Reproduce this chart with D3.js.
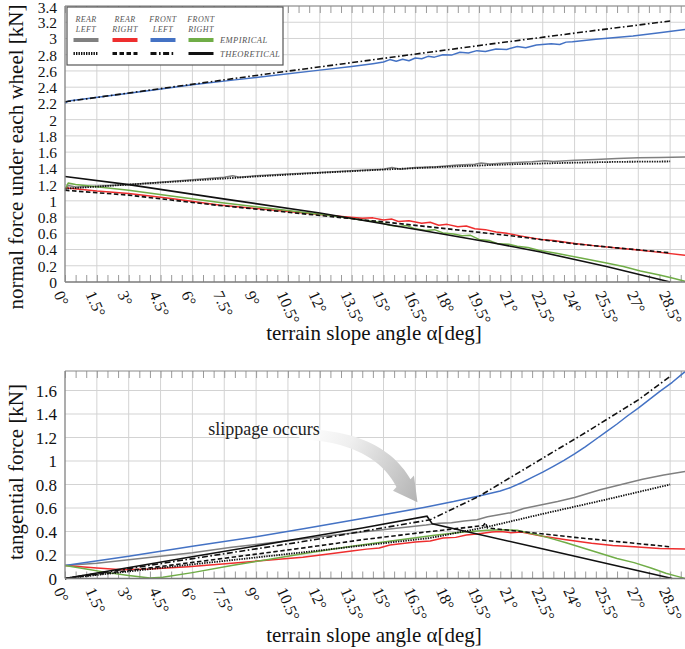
<!DOCTYPE html>
<html><head><meta charset="utf-8">
<script src="https://cdn.jsdelivr.net/npm/d3@7"></script>
<style>
body{margin:0;background:#fff;}
svg{display:block;font-family:"Liberation Serif","DejaVu Serif",serif;}
</style></head><body>
<svg id="c" width="685" height="649"></svg>
<script>
// ---------- tick values / labels ----------
const xTicks = [0,1.5,3,4.5,6,7.5,9,10.5,12,13.5,15,16.5,18,19.5,21,22.5,24,25.5,27,28.5];
const xTickLabels = ["0°","1.5°","3°","4.5°","6°","7.5°","9°","10.5°","12°","13.5°","15°","16.5°","18°","19.5°","21°","22.5°","24°","25.5°","27°","28.5°"];
const normTicks = [0,0.2,0.4,0.6,0.8,1,1.2,1.4,1.6,1.8,2,2.2,2.4,2.6,2.8,3,3.2,3.4];
const normTickLabels = ["0","0.2","0.4","0.6","0.8","1","1.2","1.4","1.6","1.8","2","2.2","2.4","2.6","2.8","3","3.2","3.4"];
const tanTicks = [0,0.2,0.4,0.6,0.8,1,1.2,1.4,1.6];
const tanTickLabels = ["0","0.2","0.4","0.6","0.8","1","1.2","1.4","1.6"];
const legendColumns = [["REAR","LEFT"],["REAR","RIGHT"],["FRONT","LEFT"],["FRONT","RIGHT"]];
const legendRows = ["EMPIRICAL","THEORETICAL"];

// ---------- normal force [kN] vs slope angle [deg] ----------
const normRearLeftEmp = [[0,1.12],[0.15,1.19],[0.5,1.17],[1.5,1.18],[3,1.20],[4.5,1.23],[6,1.26],[7.5,1.29],[7.9,1.31],[8.2,1.29],[9,1.31],[10.5,1.33],[12,1.35],[13.5,1.37],[15,1.39],[15.4,1.41],[15.8,1.39],[16.5,1.41],[17.5,1.42],[18.5,1.44],[19.3,1.45],[19.6,1.465],[20,1.455],[21,1.47],[22,1.48],[22.6,1.495],[23,1.485],[24,1.50],[25,1.51],[26,1.52],[27,1.53],[28,1.535],[29.2,1.54]];
const normRearLeftTheo = [[0,1.15],[3,1.20],[6,1.25],[9,1.30],[12,1.345],[15,1.385],[18,1.42],[21,1.45],[24,1.47],[26,1.48],[28.5,1.485]];
const normRearRightEmp = [[0,1.16],[1.5,1.12],[3,1.09],[5,1.03],[7.25,0.95],[10,0.88],[12.9,0.81],[14,0.785],[14.5,0.79],[15,0.765],[15.4,0.775],[15.7,0.745],[16.2,0.755],[16.8,0.725],[17.2,0.735],[17.6,0.70],[18,0.71],[18.5,0.68],[18.9,0.69],[19.3,0.655],[19.8,0.645],[20.3,0.615],[20.8,0.60],[21.5,0.565],[22.4,0.525],[23,0.51],[24,0.475],[25,0.445],[26,0.42],[27,0.395],[28,0.365],[29.2,0.33]];
const normRearRightTheo = [[0,1.13],[3,1.07],[7,0.95],[12,0.82],[15,0.74],[18,0.655],[21,0.57],[24,0.47],[26,0.42],[28.5,0.36]];
const normFrontLeftEmp = [[0,2.20],[0.15,2.23],[2,2.29],[4,2.36],[6,2.43],[8,2.49],[10,2.55],[12,2.61],[13.5,2.655],[14.5,2.69],[15,2.71],[15.3,2.74],[15.6,2.72],[15.9,2.745],[16.2,2.725],[16.5,2.76],[16.8,2.75],[17.1,2.78],[17.4,2.77],[17.8,2.80],[18.2,2.795],[18.6,2.83],[19,2.82],[19.4,2.85],[19.8,2.84],[20.3,2.87],[20.8,2.865],[21.3,2.90],[21.7,2.885],[22.2,2.92],[22.9,2.935],[23.3,2.925],[23.6,2.955],[23.9,2.96],[25,2.99],[26.75,3.03],[28,3.07],[29.2,3.11]];
const normFrontLeftTheo = [[0,2.22],[5,2.40],[10,2.58],[15,2.755],[20,2.93],[25,3.10],[28.5,3.215]];
const normFrontRightEmp = [[0,1.14],[0.15,1.22],[0.5,1.20],[3,1.13],[5,1.06],[7.3,0.98],[10,0.895],[12,0.835],[13,0.80],[14,0.765],[14.8,0.735],[15.3,0.70],[15.7,0.685],[16.1,0.695],[16.5,0.655],[17,0.635],[17.4,0.645],[17.8,0.605],[18.3,0.59],[18.7,0.57],[19.1,0.575],[19.5,0.525],[20,0.51],[20.4,0.47],[20.9,0.465],[21.3,0.44],[21.8,0.425],[22.3,0.39],[23.2,0.35],[24.3,0.295],[25.5,0.235],[26.3,0.19],[27.1,0.135],[28,0.085],[28.6,0.05],[29.2,0.01]];
const normFrontRightTheo = [[0,1.30],[3,1.20],[7.3,1.03],[12,0.85],[16.7,0.64],[20,0.49],[22.4,0.37],[25.5,0.19],[28.5,0.0]];

// ---------- tangential force [kN] vs slope angle [deg] ----------
const tanRearLeftEmp = [[0,0.11],[1.5,0.13],[3,0.16],[4.5,0.19],[6,0.22],[7.85,0.265],[9.5,0.30],[11.1,0.335],[12.5,0.365],[14,0.395],[15.5,0.425],[17,0.455],[17.6,0.47],[18.2,0.475],[18.8,0.49],[19.4,0.50],[19.9,0.525],[20.5,0.545],[21,0.56],[21.6,0.595],[22.4,0.625],[23.2,0.655],[24,0.69],[25.2,0.755],[26.2,0.80],[27.2,0.845],[28.2,0.88],[29.2,0.91]];
const tanRearLeftTheo = [[0,0],[5.5,0.11],[11.07,0.22],[14,0.28],[17.2,0.345],[19.9,0.44],[22.5,0.55],[25.2,0.66],[28.5,0.80]];
const tanRearRightEmp = [[0,0.11],[1.5,0.09],[2.7,0.075],[4,0.08],[5.8,0.10],[7.85,0.13],[9.5,0.155],[11.2,0.18],[12.5,0.21],[13.5,0.235],[14.2,0.25],[14.8,0.26],[15.3,0.285],[15.8,0.295],[16.5,0.31],[17.2,0.32],[17.8,0.345],[18.4,0.35],[18.9,0.37],[19.5,0.38],[20.1,0.395],[20.5,0.40],[21.0,0.39],[21.5,0.395],[21.9,0.38],[22.5,0.36],[23.6,0.33],[24.8,0.30],[25.8,0.28],[26.8,0.27],[28,0.255],[29.2,0.25]];
const tanRearRightTheo = [[0,0],[5.5,0.125],[11.1,0.257],[14,0.33],[17.2,0.40],[19.7,0.45],[19.8,0.475],[19.9,0.43],[24,0.35],[28.5,0.27]];
const tanFrontLeftEmp = [[0,0.11],[3,0.19],[6,0.275],[9,0.355],[11.3,0.425],[14,0.51],[16.9,0.605],[18.3,0.655],[19.55,0.705],[20.5,0.745],[21,0.775],[21.5,0.815],[22,0.86],[22.5,0.905],[23,0.955],[23.5,1.005],[24,1.06],[24.5,1.12],[25,1.185],[25.5,1.25],[26,1.315],[26.5,1.385],[27,1.45],[27.5,1.52],[28,1.59],[28.6,1.67],[29.2,1.76]];
const tanFrontLeftTheo = [[0,0],[5.5,0.155],[11.07,0.31],[17.2,0.50],[19.5,0.70],[22,0.97],[24.5,1.24],[27,1.52],[28.5,1.72]];
const tanFrontRightEmp = [[0,0.11],[1,0.08],[2,0.05],[3,0.025],[4,0.005],[4.6,0.01],[6,0.05],[7.85,0.11],[9.5,0.16],[11.2,0.21],[13.5,0.275],[15.8,0.33],[17.5,0.37],[18.8,0.395],[19.9,0.41],[20.6,0.415],[21.3,0.41],[21.8,0.39],[22.4,0.365],[23,0.335],[23.6,0.305],[24.4,0.26],[25.2,0.215],[26,0.17],[26.8,0.135],[27.6,0.09],[28.3,0.045],[28.8,0.02],[29.2,0.0]];
const tanFrontRightTheo = [[0,0],[5.5,0.17],[11.07,0.34],[14,0.43],[17.05,0.53],[17.3,0.465],[22.06,0.27],[28.6,0.0]];

// ---------- annotation ----------
const slipText = "slippage occurs";
const slipTextPos = [6.75, 1.22];   // [deg, kN]
const slipArrowTip = [16.6, 0.65];  // [deg, kN]

// ---------- styles ----------
const C = {rl:"#808080", rr:"#ee2e2e", fl:"#4472c4", fr:"#70ad47", theo:"#111"};
const DASH = {rl:"1.4,1.1", rr:"4.5,2.5", fl:"6,2.5,1.6,2.5", fr:null};

const svg = d3.select("#c");
const X_MAX = 29.2;
const x = d3.scaleLinear().domain([0, X_MAX]).range([65, 685]);
const minorTicks = d3.range(0, 29.01, 0.5);

function panel(o) {
  const y = d3.scaleLinear().domain([0, o.yMax]).range([o.yBottom, o.yTop]);
  const g = svg.append("g");
  g.append("g").selectAll("line").data(xTicks.slice(1)).join("line")
    .attr("x1", d=>x(d)).attr("x2", d=>x(d)).attr("y1", o.yTop).attr("y2", o.yBottom)
    .attr("stroke", "#d3d3d3").attr("stroke-width", 1);
  g.append("g").selectAll("line").data(o.ticks.slice(1)).join("line")
    .attr("x1", 65).attr("x2", 685).attr("y1", d=>y(d)).attr("y2", d=>y(d))
    .attr("stroke", "#d3d3d3").attr("stroke-width", 1);
  const bt = g.append("g").attr("transform", `translate(0,${o.yBottom})`)
    .call(d3.axisBottom(x).tickValues(minorTicks).tickSize(-7).tickFormat(""));
  bt.select(".domain").remove();
  bt.selectAll("line").attr("stroke", "#9a9a9a");
  const tt = g.append("g").attr("transform", `translate(0,${o.yTop})`)
    .call(d3.axisTop(x).tickValues(minorTicks).tickSize(-7).tickFormat(""));
  tt.select(".domain").remove();
  tt.selectAll("line").attr("stroke", "#9a9a9a");

  const line = d3.line().x(d=>x(d[0])).y(d=>y(d[1]));
  const S = o.series;
  [["rl",S.rlE],["rr",S.rrE],["fl",S.flE],["fr",S.frE]].forEach(([k,d])=>{
    g.append("path").datum(d).attr("d", line).attr("fill","none")
      .attr("stroke", C[k]).attr("stroke-width", 1.5).attr("stroke-linejoin","round");
  });
  [["rl",S.rlT],["rr",S.rrT],["fl",S.flT],["fr",S.frT]].forEach(([k,d])=>{
    const p = g.append("path").datum(d).attr("d", line).attr("fill","none")
      .attr("stroke", C.theo).attr("stroke-width", k==="rl"?1.8:1.6);
    if (DASH[k]) p.attr("stroke-dasharray", DASH[k]);
  });

  g.append("line").attr("x1",65).attr("x2",685).attr("y1",o.yTop).attr("y2",o.yTop).attr("stroke","#8a8a8a").attr("stroke-width",1.2);
  g.append("line").attr("x1",65).attr("x2",685).attr("y1",o.yBottom).attr("y2",o.yBottom).attr("stroke","#7a7a7a").attr("stroke-width",1.6);
  g.append("line").attr("x1",65).attr("x2",65).attr("y1",o.yTop).attr("y2",o.yBottom).attr("stroke","#8a8a8a").attr("stroke-width",1.4);

  const ya = g.append("g").attr("transform","translate(65,0)")
    .call(d3.axisLeft(y).tickValues(o.ticks).tickSize(0).tickPadding(8).tickFormat((d,i)=>o.labels[i]));
  ya.select(".domain").remove();
  ya.selectAll("text").attr("font-family","Liberation Serif, serif").attr("font-size",o.yFont).attr("fill","#111")
    .attr("dy",(d,i)=> (o.yTop < 20 && i===o.ticks.length-1) ? "0.42em" : "0.35em");
  const xa = g.append("g").attr("transform",`translate(0,${o.yBottom})`)
    .call(d3.axisBottom(x).tickValues(xTicks).tickSize(0).tickFormat((d,i)=>xTickLabels[i]));
  xa.select(".domain").remove();
  xa.selectAll("text").attr("font-family","Liberation Serif, serif").attr("font-size",16).attr("fill","#111")
    .attr("x",0).attr("y",0).attr("dy",0).attr("text-anchor","start")
    .attr("transform","translate(-12,12) rotate(66)");
  g.append("text").attr("x",374).attr("y",o.xTitleY).attr("text-anchor","middle")
    .attr("font-size",21).attr("fill","#111").text("terrain slope angle α[deg]");
  g.append("text").attr("transform",`translate(23,${o.yTitleC}) rotate(-90)`).attr("text-anchor","middle")
    .attr("font-size",21).attr("fill","#111").text(o.yTitle);
  return {g, y};
}

const topPanel = panel({yTop:6, yBottom:282, yMax:3.4, ticks:normTicks, labels:normTickLabels, yFont:15.5,
  xTitleY:340, yTitle:"normal force under each wheel [kN]", yTitleC:157,
  series:{rlE:normRearLeftEmp, rlT:normRearLeftTheo, rrE:normRearRightEmp, rrT:normRearRightTheo,
          flE:normFrontLeftEmp, flT:normFrontLeftTheo, frE:normFrontRightEmp, frT:normFrontRightTheo}});

const botPanel = panel({yTop:371, yBottom:578.5, yMax:(578.5-371)/117.5, ticks:tanTicks, labels:tanTickLabels, yFont:17,
  xTitleY:642, yTitle:"tangential force [kN]", yTitleC:472,
  series:{rlE:tanRearLeftEmp, rlT:tanRearLeftTheo, rrE:tanRearRightEmp, rrT:tanRearRightTheo,
          flE:tanFrontLeftEmp, flT:tanFrontLeftTheo, frE:tanFrontRightEmp, frT:tanFrontRightTheo}});

// ---------- legend ----------
const lg = svg.append("g");
lg.append("rect").attr("x",67).attr("y",7).attr("width",216).attr("height",58)
  .attr("fill","#fff").attr("stroke","#555").attr("stroke-width",1.2);
const colX = [86,125,163,201];
const keys = ["rl","rr","fl","fr"];
legendColumns.forEach((lines,i)=>{
  lines.forEach((t,j)=>{
    lg.append("text").attr("x",colX[i]).attr("y",21.5+j*10).attr("text-anchor","middle")
      .attr("font-size",8).attr("font-style","italic").attr("letter-spacing",0.4).attr("fill","#555").text(t);
  });
  lg.append("line").attr("x1",colX[i]-12.5).attr("x2",colX[i]+12.5).attr("y1",40).attr("y2",40)
    .attr("stroke",C[keys[i]]).attr("stroke-width",4);
  const l2 = lg.append("line").attr("x1",colX[i]-12.5).attr("x2",colX[i]+12.5).attr("y1",53.5).attr("y2",53.5)
    .attr("stroke",C.theo).attr("stroke-width",3);
  if (DASH[keys[i]]) l2.attr("stroke-dasharray", DASH[keys[i]]);
});
legendRows.forEach((t,j)=>{
  lg.append("text").attr("x",220).attr("y",43+j*13.5).attr("font-size",8.5).attr("font-style","italic")
    .attr("letter-spacing",0.4).attr("fill","#555").text(t);
});

// ---------- annotation: slippage arrow ----------
const yb = botPanel.y;
const T = [x(slipArrowTip[0]), yb(slipArrowTip[1])];
const P0 = [T[0]-118, T[1]-68], Q = [T[0]-40, T[1]-66], E = [T[0]-14, T[1]-19];
const defs = svg.append("defs");
const grad = defs.append("linearGradient").attr("id","ag").attr("gradientUnits","userSpaceOnUse")
  .attr("x1",P0[0]).attr("y1",P0[1]).attr("x2",T[0]).attr("y2",T[1]);
grad.append("stop").attr("offset",0).attr("stop-color","#ffffff");
grad.append("stop").attr("offset",0.35).attr("stop-color","#efefef");
grad.append("stop").attr("offset",1).attr("stop-color","#b3b3b3");
const leftSide=[], rightSide=[];
for (let i=0;i<=30;i++){
  const t=i/30;
  const bx=(1-t)*(1-t)*P0[0]+2*(1-t)*t*Q[0]+t*t*E[0];
  const by=(1-t)*(1-t)*P0[1]+2*(1-t)*t*Q[1]+t*t*E[1];
  const dx=2*(1-t)*(Q[0]-P0[0])+2*t*(E[0]-Q[0]);
  const dy=2*(1-t)*(Q[1]-P0[1])+2*t*(E[1]-Q[1]);
  const L=Math.hypot(dx,dy), nx=-dy/L, ny=dx/L, w=5+3*t;
  leftSide.push([bx+nx*w,by+ny*w]); rightSide.push([bx-nx*w,by-ny*w]);
}
const hd=[T[0]-E[0],T[1]-E[1]], hL=Math.hypot(hd[0],hd[1]);
const hn=[-hd[1]/hL, hd[0]/hL];
const pts = leftSide.concat([[E[0]+hn[0]*13,E[1]+hn[1]*13],T,[E[0]-hn[0]*13,E[1]-hn[1]*13]], rightSide.reverse());
svg.append("path").attr("d","M"+pts.map(p=>p.join(",")).join("L")+"Z").attr("fill","url(#ag)");
svg.append("text").attr("x",x(slipTextPos[0])).attr("y",yb(slipTextPos[1]))
  .attr("font-size",18).attr("fill","#222").text(slipText);
</script>
</body></html>
